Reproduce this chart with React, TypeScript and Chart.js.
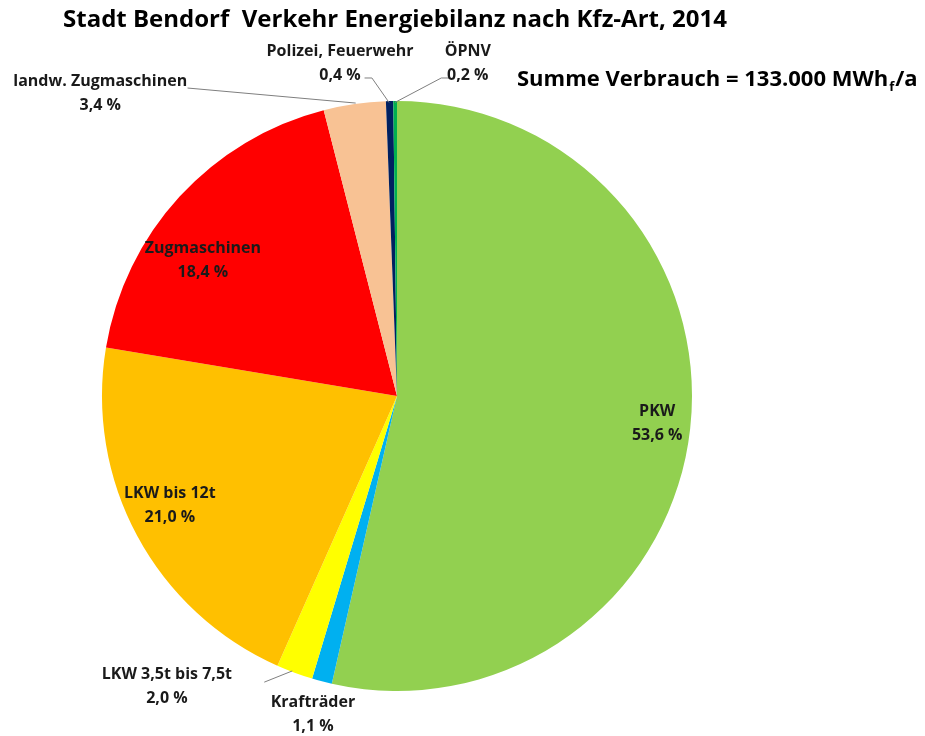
import React, { useEffect, useRef } from "react";
import { Chart, registerables } from "chart.js";

Chart.register(...registerables);

const TITLE = "Stadt Bendorf  Verkehr Energiebilanz nach Kfz-Art, 2014";
const categories = [
  "PKW",
  "Krafträder",
  "LKW 3,5t bis 7,5t",
  "LKW bis 12t",
  "Zugmaschinen",
  "landw. Zugmaschinen",
  "Polizei, Feuerwehr",
  "ÖPNV",
];
const shares = [53.6, 1.1, 2.0, 21.0, 18.4, 3.4, 0.4, 0.2];
const colors = [
  "#92D050",
  "#00B0F0",
  "#FFFF00",
  "#FFC000",
  "#FF0000",
  "#F8C294",
  "#002060",
  "#00B050",
];

const FONT = "'Open Sans', sans-serif";

type LabelSpec = {
  dx: number;
  dy: number;
  leader?: { fx: number; fy: number }[];
};
const labelSpecs: LabelSpec[] = [
  { dx: 0.882, dy: 0.092 },
  { dx: -0.285, dy: 1.08 },
  { dx: -0.78, dy: 0.985, leader: [{ fx: -0.45, fy: 0.97 }, { fx: -0.355, fy: 0.932 }] },
  { dx: -0.77, dy: 0.37 },
  { dx: -0.658, dy: -0.46 },
  { dx: -1.006, dy: -1.025, leader: [{ fx: -0.71, fy: -1.044 }, { fx: -0.14, fy: -0.993 }] },
  { dx: -0.193, dy: -1.129, leader: [{ fx: -0.11, fy: -1.078 }, { fx: -0.085, fy: -1.078 }, { fx: -0.027, fy: -0.995 }] },
  { dx: 0.24, dy: -1.129, leader: [{ fx: 0.18, fy: -1.078 }, { fx: 0.15, fy: -1.078 }, { fx: -0.007, fy: -0.995 }] },
];

const fmt = (v: number) => v.toFixed(1).replace(".", ",") + " %";

const textPlugin = {
  id: "customText",
  afterDraw(chart: any) {
    const ctx = chart.ctx as CanvasRenderingContext2D;
    const meta = chart.getDatasetMeta(0);
    const arc0 = meta.data[0];
    const cx = arc0.x;
    const cy = arc0.y;
    const R = arc0.outerRadius;
    ctx.save();
    ctx.fillStyle = "#000";
    ctx.textBaseline = "middle";
    ctx.textAlign = "left";
    ctx.font = `bold 24px ${FONT}`;
    ctx.fillText(TITLE, 63, 20);
    ctx.font = `bold 22px ${FONT}`;
    const s1 = "Summe Verbrauch = 133.000 MWh";
    ctx.fillText(s1, 517, 80);
    const w1 = ctx.measureText(s1).width;
    ctx.font = `bold 13px ${FONT}`;
    ctx.fillText("f", 517 + w1 + 1, 87);
    const w2 = ctx.measureText("f").width;
    ctx.font = `bold 22px ${FONT}`;
    ctx.fillText("/a", 517 + w1 + w2 + 2, 80);

    labelSpecs.forEach((spec, i) => {
      const x = cx + spec.dx * R;
      const y = cy + spec.dy * R;
      if (spec.leader) {
        ctx.strokeStyle = "#7f7f7f";
        ctx.lineWidth = 1;
        ctx.beginPath();
        spec.leader.forEach((p, j) => {
          const px = cx + p.fx * R;
          const py = cy + p.fy * R;
          if (j === 0) ctx.moveTo(px, py);
          else ctx.lineTo(px, py);
        });
        ctx.stroke();
      }
      ctx.fillStyle = "#1a1a1a";
      ctx.textAlign = "center";
      ctx.textBaseline = "middle";
      ctx.font = `bold 16px ${FONT}`;
      ctx.fillText(chart.data.labels[i], x, y - 12);
      ctx.fillText(fmt(chart.data.datasets[0].data[i]), x, y + 12);
    });
    ctx.restore();
  },
};

export default function App() {
  const ref = useRef<HTMLCanvasElement>(null);
  useEffect(() => {
    const chart = new Chart(ref.current!, {
      type: "pie",
      data: {
        labels: categories,
        datasets: [
          {
            data: shares,
            backgroundColor: colors,
            borderWidth: 0,
          },
        ],
      },
      options: {
        animation: false,
        responsive: false,
        events: [],
        layout: { padding: { left: 102, right: 233, top: 101, bottom: 45 } },
        plugins: {
          legend: { display: false },
          title: { display: false },
          tooltip: { enabled: false },
        },
      },
      plugins: [textPlugin],
    });
    return () => chart.destroy();
  }, []);
  return (
    <div style={{ position: "absolute", left: 0, top: 0, width: 925, height: 736, background: "#fff" }}>
      <canvas ref={ref} width={925} height={736} style={{ width: 925, height: 736 }} />
    </div>
  );
}
